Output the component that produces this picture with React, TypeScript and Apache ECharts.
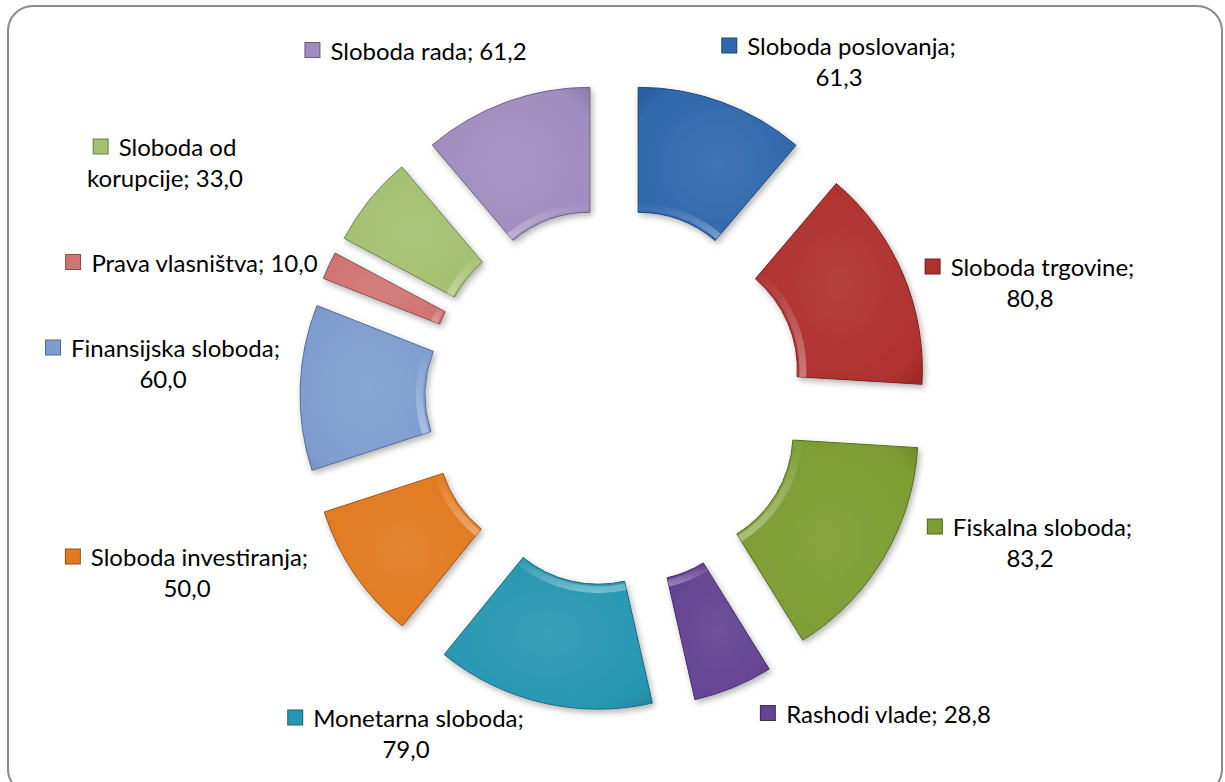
import React, { useEffect, useRef } from "react";
import * as echarts from "echarts";

// ---- data ----
const categories = [
  "Sloboda poslovanja",
  "Sloboda trgovine",
  "Fiskalna sloboda",
  "Rashodi vlade",
  "Monetarna sloboda",
  "Sloboda investiranja",
  "Finansijska sloboda",
  "Prava vlasništva",
  "Sloboda od korupcije",
  "Sloboda rada",
];
const values = [61.3, 80.8, 83.2, 28.8, 79.0, 50.0, 60.0, 10.0, 33.0, 61.2];

// ---- styles / layout ----
const colors = [
  "#3068ad",
  "#b0302e",
  "#7d9c31",
  "#644392",
  "#2797b2",
  "#e27a20",
  "#7e9dcf",
  "#d07472",
  "#a4c071",
  "#a08dbf",
];
const wrapAfterWords = [2, 2, 2, 0, 2, 2, 2, 0, 2, 0];
// centre of each label block, in px
const labelAnchors: [number, number][] = [
  [839, 61],
  [1030, 282],
  [1030, 542],
  [876, 713],
  [406, 733],
  [187, 572],
  [163, 363],
  [192, 262],
  [165, 162],
  [416, 50],
];

function shade(hex: string, f: number): string {
  const n = parseInt(hex.slice(1), 16);
  let r = (n >> 16) & 255,
    g = (n >> 8) & 255,
    b = n & 255;
  if (f >= 0) {
    r = Math.round(r + (255 - r) * f);
    g = Math.round(g + (255 - g) * f);
    b = Math.round(b + (255 - b) * f);
  } else {
    r = Math.round(r * (1 + f));
    g = Math.round(g * (1 + f));
    b = Math.round(b * (1 + f));
  }
  return "rgb(" + r + "," + g + "," + b + ")";
}

function fmt(v: number): string {
  return v.toFixed(1).replace(".", ",");
}

function labelText(i: number): string {
  const words = (categories[i] + "; " + fmt(values[i])).split(" ");
  const w = wrapAfterWords[i];
  if (w > 0 && w < words.length) {
    return (
      "{m|}{g|}{t|" +
      words.slice(0, w).join(" ") +
      "}\n{t|" +
      words.slice(w).join(" ") +
      "}"
    );
  }
  return "{m|}{g|}{t|" + words.join(" ") + "}";
}

export default function App() {
  const ref = useRef<HTMLDivElement>(null);

  useEffect(() => {
    document.body.style.margin = "0";
    const chart = echarts.init(ref.current!, null, { renderer: "svg" });

    const data = categories.map((name, i) => {
      const c = colors[i];
      const fill = {
        type: "radial",
        x: 0.5,
        y: 0.5,
        r: 0.75,
        colorStops: [
          { offset: 0, color: shade(c, 0.08) },
          { offset: 0.75, color: c },
          { offset: 1, color: shade(c, -0.18) },
        ],
      };
      const itemStyle = {
        color: fill,
        borderColor: shade(c, -0.3),
        borderWidth: 1,
        shadowBlur: 6,
        shadowOffsetX: 2,
        shadowOffsetY: 3,
        shadowColor: "rgba(0,0,0,0.3)",
      };
      return { name, value: values[i], selected: true, itemStyle, select: { itemStyle } };
    });

    const rimData = categories.map((name, i) => {
      const itemStyle = {
        color: {
          type: "linear",
          x: 0,
          y: 0,
          x2: 0,
          y2: 1,
          colorStops: [
            { offset: 0, color: "rgba(255,255,255,0.0)" },
            { offset: 1, color: "rgba(255,255,255,0.35)" },
          ],
        },
        borderWidth: 0,
      };
      return { name, value: values[i], selected: true, itemStyle, select: { itemStyle } };
    });

    const labels = categories.map((_, i) => {
      const c = colors[i];
      return {
        type: "text",
        x: labelAnchors[i][0],
        y: labelAnchors[i][1],
        silent: true,
        style: {
          text: labelText(i),
          align: "center",
          verticalAlign: "middle",
          textAlign: "center",
          textVerticalAlign: "middle",
          fill: "#000",
          font: "24px Lato",
          rich: {
            m: {
              width: 14,
              height: 14,
              backgroundColor: c,
              borderColor: shade(c, -0.35),
              borderWidth: 1,
              align: "center",
            },
            g: { width: 11, align: "center" },
            t: {
              font: "24px Lato",
              fontFamily: "Lato",
              fontSize: 24,
              lineHeight: 31,
              fill: "#000",
              align: "center",
            },
          },
        },
      };
    });

    const common = {
      type: "pie",
      center: [614, 397],
      startAngle: 90,
      clockwise: true,
      selectedMode: "multiple",
      selectedOffset: 70,
      avoidLabelOverlap: false,
      emphasis: { disabled: true },
      label: { show: false },
      labelLine: { show: false },
    };

    chart.setOption({
      animation: false,
      backgroundColor: "transparent",
      series: [
        { ...common, radius: [119, 244], data },
        { ...common, radius: [121, 128], silent: true, data: rimData },
      ],
      graphic: { elements: labels },
    });

    return () => chart.dispose();
  }, []);

  return (
    <div
      style={{
        position: "relative",
        width: 1225,
        height: 782,
        overflow: "hidden",
        background: "#fff",
      }}
    >
      <div
        style={{
          position: "absolute",
          left: 7,
          top: 5,
          width: 1216,
          height: 790,
          boxSizing: "border-box",
          border: "2.5px solid #8a8a8a",
          borderRadius: 26,
        }}
      />
      <div
        ref={ref}
        style={{ position: "absolute", left: 0, top: 0, width: 1225, height: 782 }}
      />
    </div>
  );
}
